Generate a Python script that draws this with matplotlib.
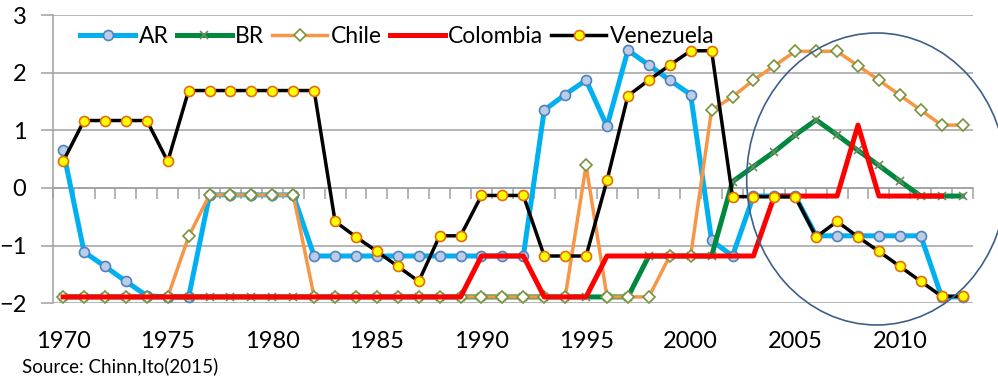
import numpy as np
import matplotlib
matplotlib.use("Agg")
import matplotlib.pyplot as plt
from matplotlib.patches import Ellipse

plt.rcParams['font.family'] = ['Lato', 'DejaVu Sans']

years = list(range(1970, 2014))

ar = [0.65, -1.11, -1.36, -1.62, -1.87, -1.89, -1.89, -0.12, -0.12, -0.12,
      -0.12, -0.12, -1.18, -1.18, -1.18, -1.18, -1.18, -1.18, -1.18, -1.18,
      -1.18, -1.18, -1.18, 1.35, 1.62, 1.87, 1.07, 2.39, 2.13, 1.87,
      1.62, -0.91, -1.18, -0.14, -0.14, -0.14, -0.83, -0.83, -0.83, -0.83,
      -0.83, -0.83, -1.89, -1.89]

br = [-1.89] * 28 + [-1.18, -1.18, -1.18, -1.18,
      0.11, 0.37, 0.63, 0.92, 1.18, 0.92, 0.65, 0.39, 0.12, -0.14, -0.14, -0.14]

chile = [-1.89, -1.89, -1.89, -1.89, -1.89, -1.89, -0.84, -0.12, -0.12, -0.12,
         -0.12, -0.12, -1.89, -1.89, -1.89, -1.89, -1.89, -1.89, -1.89, -1.89,
         -1.89, -1.89, -1.89, -1.89, -1.89, 0.39, -1.89, -1.89, -1.89, -1.18,
         -1.18, 1.35, 1.58, 1.87, 2.12, 2.37, 2.37, 2.37, 2.12, 1.87,
         1.61, 1.35, 1.09, 1.09]

colombia = [-1.89] * 20 + [-1.18, -1.18, -1.18, -1.89, -1.89, -1.89,
            -1.18, -1.18, -1.18, -1.18, -1.18, -1.18, -1.18, -1.18,
            -0.14, -0.14, -0.14, -0.14, 1.09, -0.14, -0.14, -0.14, -0.14, np.nan]

venezuela = [0.46, 1.17, 1.17, 1.17, 1.17, 0.46, 1.69, 1.69, 1.69, 1.69,
             1.69, 1.69, 1.69, -0.58, -0.85, -1.10, -1.36, -1.62, -0.83, -0.83,
             -0.13, -0.13, -0.13, -1.18, -1.18, -1.18, 0.13, 1.60, 1.87, 2.13,
             2.38, 2.38, -0.15, -0.15, -0.15, -0.15, -0.85, -0.58, -0.85, -1.10,
             -1.36, -1.62, -1.88, -1.88]

x = np.arange(len(years))
grid_c = '#A0A0A0'

fig = plt.figure(figsize=(9.98, 3.81), dpi=100)
ax = fig.add_axes([0.0528, 0.204, 0.9222, 0.7566])

ax.plot(x, ar, color='#00B0F0', lw=3.6, marker='o', ms=7.2,
        mfc='#B9CDE8', mec='#4F81BD', mew=1.2, label='AR', zorder=3)
ax.plot(x, br, color='#00893E', lw=3.6, marker='x', ms=6,
        mec='#6B8B62', mew=1.2, label='BR', zorder=4)
ax.plot(x, chile, color='#F79646', lw=2.5, marker='D', ms=6.5,
        mfc='white', mec='#77933C', mew=1.2, label='Chile', zorder=5)
ax.plot(x, colombia, color='#FF0000', lw=3.6, label='Colombia', zorder=6)
ax.plot(x, venezuela, color='black', lw=2.5, marker='o', ms=7.2,
        mfc='#FFFF00', mec='#E46C0A', mew=1.2, label='Venezuela', zorder=7)

ax.set_xlim(-0.5, len(years) - 0.5)
ax.set_ylim(-2, 3)

# y axis
ax.set_yticks(range(-2, 4))
ax.tick_params(axis='y', direction='out', length=9, width=1.1, color=grid_c,
               labelsize=17, pad=10)
ax.yaxis.grid(True, color=grid_c, lw=1.1)
ax.set_axisbelow(True)
for s in ['top', 'right']:
    ax.spines[s].set_visible(False)
ax.spines['left'].set_color(grid_c)
ax.spines['left'].set_linewidth(1.1)

# category axis crossing at zero, ticks between categories
ax.spines['bottom'].set_position(('data', 0))
ax.spines['bottom'].set_color(grid_c)
ax.spines['bottom'].set_linewidth(1.1)
ax.set_xticks(np.arange(-0.5, len(years), 1.0))
ax.tick_params(axis='x', direction='out', length=8, width=1.1, color=grid_c,
               labelbottom=False)

# year labels at the bottom
sec = ax.secondary_xaxis(0.0)
lab_idx = [i for i, y in enumerate(years) if y % 5 == 0]
sec.set_xticks(lab_idx)
sec.set_xticklabels([str(years[i]) for i in lab_idx])
sec.tick_params(length=0, labelsize=17, pad=20)
sec.spines['bottom'].set_visible(False)

leg = ax.legend(loc='center left', bbox_to_anchor=(0.03, 0.925), ncol=5,
                frameon=False, fontsize=16.5, handlelength=2.4,
                handletextpad=0.15, columnspacing=0.35, borderpad=0,
                borderaxespad=0)

fig.text(22 / 998, 1 - 372 / 381, 'Source: Chinn,Ito(2015)', fontsize=13.5,
         va='baseline')

ell = Ellipse((876.7 / 998, 1 - 179 / 381), 260 / 998, 292 / 381,
              transform=fig.transFigure, fill=False, ec='#3E5F8A', lw=1.2,
              clip_on=False, zorder=10)
fig.patches.append(ell)

fig.savefig('out.png', dpi=100)
